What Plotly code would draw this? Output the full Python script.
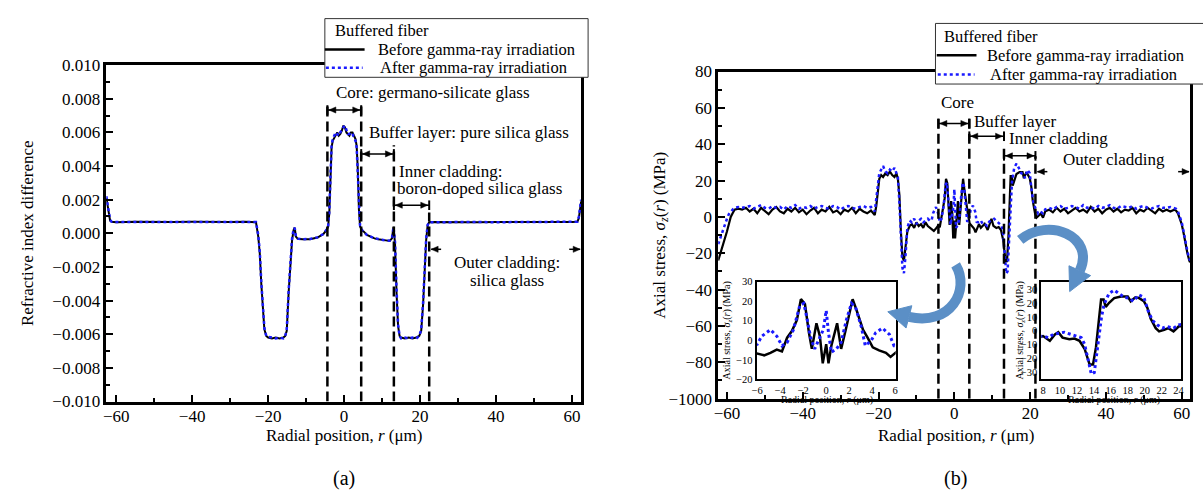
import plotly.graph_objects as go

W, H = 1203, 501
FONT = "Liberation Serif, Times New Roman, serif"
BLACK = "#000000"
BLUE = "#1a1aff"
ARROW_BLUE = "#5b8fc6"


def px(x):
    return x / W


def py(y):
    return 1 - y / H


# ---------------- (a) refractive index difference ----------------
r_ri = [-62.6, -62.3, -62.0, -61.6, -61.2, -60, -55, -50, -45, -40,
        -35, -30, -26, -23.2, -22.6, -22.2, -21.8, -21.4, -21.0, -20.5,
        -20.0, -19.0, -18.0, -17.0, -16.0, -15.5, -15.1, -14.6, -14.1, -13.7,
        -13.3, -13.0, -12.7, -12.2, -11, -9, -7, -5.5, -4.6, -4.2,
        -3.9, -3.6, -3.3, -3.0, -2.6, -2.2, -1.8, -1.4, -1.0, -0.6,
        -0.2, 0.2, 0.6, 1.0, 1.4, 1.8, 2.2, 2.6, 3.0, 3.3,
        3.6, 3.9, 4.2, 4.6, 5.2, 6, 7, 8, 9, 10,
        11, 12, 12.6, 13.0, 13.4, 13.8, 14.2, 14.6, 15, 16,
        17, 18, 19, 19.8, 20.3, 20.8, 21.2, 21.6, 22.0, 22.4,
        23, 26, 30, 35, 40, 45, 50, 55, 60, 61.4,
        61.8, 62.1, 62.4]
ri_before = [0.0021, 0.0017, 0.0011, 0.00075, 0.00068, 0.00066, 0.00068, 0.00066, 0.00067, 0.00068,
             0.00066, 0.00067, 0.00068, 0.00066, -0.0002, -0.0012, -0.0030, -0.0046, -0.0057, -0.0061,
             -0.0062, -0.00625, -0.0062, -0.00625, -0.0062, -0.0061, -0.0058, -0.0035, -0.0015, -0.0004,
             0.0002, 0.00034, -0.0002, -0.00033, -0.00036, -0.00035, -0.00025, -0.00005, 0.0002, 0.0004,
             0.0012, 0.0035, 0.0051, 0.0055, 0.0057, 0.0059, 0.0060, 0.0058, 0.0059, 0.0061,
             0.0064, 0.0063, 0.0060, 0.0059, 0.0058, 0.0060, 0.0060, 0.0058, 0.0056, 0.0052,
             0.0038, 0.0014, 0.0004, 0.0002, 0.0001, -0.0001, -0.0002, -0.0003, -0.00035, -0.0004,
             -0.00042, -0.00045, -0.0003, 0.00038, -0.0006, -0.0035, -0.0055, -0.0061, -0.0062, -0.00625,
             -0.0062, -0.00625, -0.0062, -0.0061, -0.0058, -0.0042, -0.0022, -0.0004, 0.0005, 0.00066,
             0.00067, 0.00066, 0.00068, 0.00066, 0.00067, 0.00066, 0.00068, 0.00066, 0.00067, 0.00068,
             0.0009, 0.0014, 0.0019]
ri_after = [0.0022, 0.0018, 0.0012, 0.0008, 0.00069, 0.00067, 0.00067, 0.00067, 0.00068, 0.00067,
            0.00067, 0.00068, 0.00067, 0.00067, -0.0001, -0.0011, -0.0029, -0.0045, -0.0056, -0.0061,
            -0.00615, -0.0062, -0.00625, -0.0062, -0.00625, -0.0061, -0.0057, -0.0034, -0.0014, -0.0003,
            0.00025, 0.00032, -0.00018, -0.00032, -0.00035, -0.00034, -0.00024, -0.00004, 0.00022, 0.00045,
            0.0013, 0.0036, 0.0052, 0.0056, 0.0058, 0.0060, 0.0059, 0.0058, 0.0060, 0.0062,
            0.0063, 0.0064, 0.0061, 0.0059, 0.0059, 0.0060, 0.0059, 0.0057, 0.0055, 0.0051,
            0.0036, 0.0013, 0.00045, 0.00022, 0.0001, -0.0001, -0.0002, -0.0003, -0.00034, -0.0004,
            -0.00043, -0.00044, -0.00028, 0.00036, -0.0005, -0.0033, -0.0054, -0.0061, -0.00625, -0.0062,
            -0.00625, -0.0062, -0.00625, -0.0061, -0.0057, -0.0041, -0.0021, -0.0003, 0.0005, 0.00067,
            0.00066, 0.00067, 0.00067, 0.00067, 0.00066, 0.00067, 0.00067, 0.00067, 0.00066, 0.00069,
            0.001, 0.0015, 0.002]

ri_tickvals = [-0.010, -0.008, -0.006, -0.004, -0.002, 0.000, 0.002, 0.004, 0.006, 0.008, 0.010]
ri_ticktext = ["\u22120.010", "\u22120.008", "\u22120.006", "\u22120.004", "\u22120.002", "0.000",
               "0.002", "0.004", "0.006", "0.008", "0.010"]

# region boundaries (a): position, top of dashed line
bound_a_r = [-4.4, 4.5, 13.1, 22.4]
bound_a_top = [0.00773, 0.00773, 0.00523, 0.00123]
# double arrows (a): start, end, level
arrows_a = [(-4.4, 4.5, 0.00733), (4.5, 13.1, 0.00472), (13.1, 22.4, 0.00167)]
outer_a = (22.4, 62.4, -0.00095)

# ---------------- (b) axial stress ----------------
r_edge_left = [-62.3, -62.0, -61.5, -61.0, -60.5, -60.0, -59.5, -59.0, -58.5, -58.0, -57.0, -56.0]
before_edge_left = [-24, -22, -19, -16, -12, -8, -4, 0, 2, 4, 4.5, 4]
after_edge_left = [-15, -13, -10, -7, -4, -1, 1.5, 3, 4, 5, 5.5, 5]

r_base_left = [-55, -54, -53, -52, -51, -50, -49, -48, -47, -46, -45, -44, -43, -42, -41, -40, -39,
               -38, -37, -36, -35, -34, -33, -32, -31, -30, -29, -28, -27, -26, -25, -24, -23, -22]
before_base_left = [5, 3, 4.5, 2, 5, 3.5, 1.5, 4, 5.5, 3, 2, 4.5, 3, 5, 2.5, 4, 1.5,
                    3.5, 5, 2, 4, 3, 5.5, 2.5, 3.5, 1.5, 4, 3, 5, 2, 4.5, 3, 2, 3.5]
after_base_left = [5.5, 6, 4.5, 5.5, 6.5, 5, 4.5, 6, 5, 5.5, 4, 6, 5, 6.5, 4.5, 5.5, 5,
                   6, 4.5, 5.5, 6, 5, 4.5, 6, 5.5, 4, 5.5, 6, 5, 4.5, 5.5, 6, 5, 5.5]

r_clad_left = [-21.5, -21, -20.6, -20.2, -19.8, -19.3, -18.8, -18.2, -17.6, -17,
               -16.4, -15.8, -15.3, -14.9, -14.5, -14.1, -13.7, -13.3, -12.9, -12.4,
               -11.8, -11.2, -10.6, -10, -9.4, -8.8, -8.2, -7.6, -7, -6.5]
before_clad_left = [2, 1, 6, 15, 21, 23, 22, 24, 23, 25,
                    23, 22, 24, 21, 12, -8, -22, -24, -18, -8,
                    -5, -4, -6, -3, -5, -4, -6, -3, -5, -6]
after_clad_left = [4, 3, 10, 19, 24, 26, 28, 25, 24, 26,
                   25, 27, 24, 22, 8, -12, -28, -31, -22, -6,
                   -2, -3, -1, -4, -2, -1, -3, -2, -1, -2]

r_core_before = [-6, -5.4, -4.85, -4.3, -3.85, -3.4, -3, -2.55, -2.2, -1.85, -1.5, -1.25, -0.85,
                 -0.55, -0.3, 0, 0.2, 0.45, 0.95, 1.3, 1.7, 2.05, 2.3, 2.65, 3.2, 3.6, 4.05, 4.6,
                 5.2, 5.6, 6]
core_before = [-6.9, -7.7, -6.4, -4.8, -5.7, 1.3, 4.6, 10.3, 21, 18.5, 3.8, -4.4, 8.7,
               2.1, -11.8, -2, -11.8, -2.8, 8.7, -4.4, 5.4, 15.2, 21, 15.2, 5.4, 1.3, -3.6, -5.2,
               -6.4, -8.5, -6.4]
r_core_after = [-6, -5.6, -4.85, -4.3, -3.85, -3.4, -2.85, -2.3, -1.95, -1.7, -1.35, -1, -0.6,
                -0.25, 0, 0.2, 0.45, 0.9, 1.3, 1.75, 2.2, 2.55, 3.05, 3.4, 3.9, 4.3, 4.9, 5.5, 5.9]
core_after = [-2, 2.1, 5.4, 2.1, -2.8, -1.1, 5.4, 17.7, 18.9, 12, 1.3, -4.4, 1.3,
              5.4, 15.2, 3.8, -6.1, -4.4, -1.1, 10.3, 18.9, 16.9, 7, -2.8, -0.3, 3.8, 6.2, 3, -2.8]

r_clad_right_before = [6.5, 7, 7.5, 8, 8.8, 9.4, 9.8, 10.3, 11.1, 11.7, 12.3, 12.9, 13.5, 13.9,
                       14.25, 14.85, 15.15, 15.4, 15.8, 16.4, 17.2, 18, 18.35, 18.9, 19.3, 19.9,
                       20.3, 20.7, 21.3, 21.7, 22.3, 22.8, 23.4, 24]
clad_right_before = [-4, -6, -5, -3.8, -7.2, -2.6, -1, -4.9, -6.1, -5.6, -7.2, -12.9, -24.3, -24.3,
                     -11.8, 22.5, 22.5, 17.2, 20.2, 23.6, 24.7, 24.7, 21.3, 24.1, 23.6, 21.3,
                     16.8, 8.8, 1.9, -0.4, 0.8, 1.9, -0.4, 3.1]
r_clad_right_after = [6.5, 7, 7.5, 8, 8.6, 9.2, 9.95, 10.5, 11.3, 11.9, 12.5, 12.9, 13.35, 13.7,
                      14.05, 14.45, 14.9, 15.2, 15.8, 16.4, 17, 17.6, 18.15, 18.65, 19.3, 19.9,
                      20.4, 20.9, 21.5, 22.1, 22.6, 23.4, 24]
clad_right_after = [-3, -2, -4, -3.8, -4.9, -2.6, -1.5, -1, -2.6, -3.8, -4.9, -9.5, -23.2, -31.2,
                    -30, -10.6, 9.9, 19, 27, 29.3, 27, 24.1, 23.6, 21.3, 25.9, 24.1,
                    14.5, 7.6, 4.2, 1.9, 3.1, 1.9, 4.2]

r_base_right = [25, 26, 27, 28, 29, 30, 31, 32, 33, 34, 35, 36, 37, 38, 39, 40,
                41, 42, 43, 44, 45, 46, 47, 48, 49, 50, 51, 52, 53, 54, 55]
before_base_right = [4, 2.5, 5, 3, 4.5, 2, 3.5, 5, 3, 4, 2.5, 5.5, 3, 4.5, 2, 4,
                     5, 3, 4.5, 2.5, 4, 3.5, 5, 2, 4, 3, 5, 3.5, 2, 4.5, 3]
after_base_right = [5, 4, 5.5, 6, 4.5, 5, 6, 5.5, 4.5, 6.5, 5, 5.5, 4.5, 6, 5, 5.5,
                    6.5, 5, 4.5, 6, 5.5, 5, 6, 4.5, 5.5, 6, 5, 4.5, 5.5, 6, 5]

r_edge_right = [56, 57, 58, 58.5, 59, 59.5, 60, 60.5, 61, 61.5, 62, 62.2]
before_edge_right = [4, 3, 4, 3.5, 2, -1, -4, -9, -15, -20, -24, -25]
after_edge_right = [5, 5.5, 5, 4.5, 3, 0, -3, -8, -14, -19, -23, -24]

stress_tickvals = [-100, -80, -60, -40, -20, 0, 20, 40, 60, 80]
stress_ticktext = ["\u22121000", "\u221280", "\u221260", "\u221240", "\u221220", "0", "20", "40", "60", "80"]
r_tickvals = [-60, -40, -20, 0, 20, 40, 60]
r_ticktext = ["\u221260", "\u221240", "\u221220", "0", "20", "40", "60"]

inset_a_xvals = [-6, -4, -2, 0, 2, 4, 6]
inset_a_xtext = ["\u22126", "\u22124", "\u22122", "0", "2", "4", "6"]
inset_a_yvals = [-20, -10, 0, 10, 20, 30]
inset_a_ytext = ["\u221220", "\u221210", "0", "10", "20", "30"]
inset_b_xvals = [8, 10, 12, 14, 16, 18, 20, 22, 24]
inset_b_yvals = [-30, -20, -10, 0, 10, 20, 30]
inset_b_ytext = ["\u221230", "\u221220", "\u221210", "0", "10", "20", "30"]

bound_b_r = [-4.2, 3.95, 13.1, 21.4]
bound_b_top = [54.4, 54.4, 37.6, 33.4]
arrows_b = [(-4.2, 3.95, 51.4), (3.95, 13.1, 44.4), (13.1, 21.4, 33.6)]
outer_b = (21.4, 62.2, 24.9)

stress_r_before = (r_edge_left + r_base_left + r_clad_left + r_core_before
                   + r_clad_right_before + r_base_right + r_edge_right)
stress_before = (before_edge_left + before_base_left + before_clad_left + core_before
                 + clad_right_before + before_base_right + before_edge_right)
stress_r_after = (r_edge_left + r_base_left + r_clad_left + r_core_after
                  + r_clad_right_after + r_base_right + r_edge_right)
stress_after = (after_edge_left + after_base_left + after_clad_left + core_after
                + clad_right_after + after_base_right + after_edge_right)

# ---------------- panel geometry (pixels) ----------------
A_BOX = (102, 580, 58.3, 408)      # left, right, top, bottom
A_XR = (-62.6, 62.4)
A_YR = (-0.010, 0.010)
B_BOX = (718, 1193, 65, 405)
B_XR = (-62.3, 62.2)
B_YR = (-100, 80)


def to_px(box, xr, yr, x, y):
    X = box[0] + (x - xr[0]) / (xr[1] - xr[0]) * (box[1] - box[0])
    Y = box[3] - (y - yr[0]) / (yr[1] - yr[0]) * (box[3] - box[2])
    return X, Y


# ---------------- figure ----------------
fig = go.Figure()
fig.add_trace(go.Scatter(x=r_ri, y=ri_before, mode="lines", line=dict(color=BLACK, width=2),
                         xaxis="x", yaxis="y", name="Before gamma-ray irradiation"))
fig.add_trace(go.Scatter(x=r_ri, y=ri_after, mode="lines", line=dict(color=BLUE, width=2.5, dash="dot"),
                         xaxis="x", yaxis="y", name="After gamma-ray irradiation"))
for xa, ya, wb, wa in [("x2", "y2", 2.2, 2.5), ("x3", "y3", 2.5, 3), ("x4", "y4", 2.5, 3)]:
    fig.add_trace(go.Scatter(x=stress_r_before, y=stress_before, mode="lines",
                             line=dict(color=BLACK, width=wb), xaxis=xa, yaxis=ya,
                             name="Before gamma-ray irradiation"))
    fig.add_trace(go.Scatter(x=stress_r_after, y=stress_after, mode="lines",
                             line=dict(color=BLUE, width=wa, dash="dot"), xaxis=xa, yaxis=ya,
                             name="After gamma-ray irradiation"))


def main_axis(**kw):
    d = dict(showline=True, linecolor="black", linewidth=2.5, mirror=True, ticks="inside",
             tickcolor="black", tickwidth=2, ticklen=7, showgrid=False, zeroline=False,
             tickfont=dict(family=FONT, size=17, color="black"))
    d.update(kw)
    return d


def inset_axis(**kw):
    d = dict(showline=True, linecolor="black", linewidth=2, mirror=True, ticks="",
             showgrid=False, zeroline=False, tickfont=dict(family=FONT, size=10.5, color="black"))
    d.update(kw)
    return d


minor_x = dict(ticks="inside", ticklen=4, tickwidth=2, tickcolor="black", dtick=10, tick0=0)

fig.update_layout(
    width=W, height=H, margin=dict(l=0, r=0, t=0, b=0),
    paper_bgcolor="white", plot_bgcolor="white", showlegend=False,
    font=dict(family=FONT, color="black"),
    xaxis=main_axis(domain=[px(A_BOX[0]), px(A_BOX[1])], range=list(A_XR), anchor="y",
                    tickmode="array", tickvals=r_tickvals, ticktext=r_ticktext, minor=minor_x,
                    ticklabelstandoff=-3),
    yaxis=main_axis(domain=[py(A_BOX[3]), py(A_BOX[2])], range=list(A_YR), anchor="x",
                    tickmode="array", tickvals=ri_tickvals, ticktext=ri_ticktext,
                    minor=dict(ticks="inside", ticklen=4, tickwidth=2, tickcolor="black",
                               dtick=0.001, tick0=0)),
    xaxis2=main_axis(domain=[px(B_BOX[0]), px(B_BOX[1])], range=list(B_XR), anchor="y2",
                     tickmode="array", tickvals=r_tickvals, ticktext=r_ticktext, minor=minor_x,
                     ticklabelstandoff=-3),
    yaxis2=main_axis(domain=[py(B_BOX[3]), py(B_BOX[2])], range=list(B_YR), anchor="x2",
                     tickmode="array", tickvals=stress_tickvals, ticktext=stress_ticktext,
                     minor=dict(ticks="inside", ticklen=4, tickwidth=2, tickcolor="black",
                                dtick=10, tick0=0)),
    xaxis3=inset_axis(domain=[px(756.7), px(896.7)], range=[-6.05, 6.05], anchor="y3",
                      tickmode="array", tickvals=inset_a_xvals, ticktext=inset_a_xtext),
    yaxis3=inset_axis(domain=[py(385), py(283.3)], range=[-20, 30], anchor="x3",
                      tickmode="array", tickvals=inset_a_yvals, ticktext=inset_a_ytext),
    xaxis4=inset_axis(domain=[px(1043.3), px(1184)], range=[7.8, 24.3], anchor="y4",
                      tickmode="array", tickvals=inset_b_xvals),
    yaxis4=inset_axis(domain=[py(385), py(284)], range=[-35, 35], anchor="x4",
                      tickmode="array", tickvals=inset_b_yvals, ticktext=inset_b_ytext),
)

shapes = []
annotations = []


def P(x, y):
    return f"{px(x):.5f},{py(y):.5f}"


def text_ann(txt, x, y, size=17, xanchor="center", angle=0):
    annotations.append(dict(text=txt, x=px(x), y=py(y), xref="paper", yref="paper",
                            xanchor=xanchor, yanchor="middle", showarrow=False,
                            font=dict(family=FONT, size=size, color="black"), textangle=angle))


def head(xt, yt, direction, L=7, h=3.2):
    # direction: -1 arrow points left, +1 points right
    base = xt - direction * L
    shapes.append(dict(type="path", xref="paper", yref="paper",
                       path=f"M {P(xt, yt)} L {P(base, yt - h)} L {P(base, yt + h)} Z",
                       fillcolor="black", line=dict(color="black", width=0.5)))


def double_arrow(box, xr, yr, x0, x1, y):
    X0, Y = to_px(box, xr, yr, x0, y)
    X1, _ = to_px(box, xr, yr, x1, y)
    shapes.append(dict(type="line", xref="paper", yref="paper", x0=px(X0), x1=px(X1),
                       y0=py(Y), y1=py(Y), line=dict(color="black", width=1.5)))
    for xx in (X0, X1):
        shapes.append(dict(type="line", xref="paper", yref="paper", x0=px(xx), x1=px(xx),
                           y0=py(Y - 5), y1=py(Y + 5), line=dict(color="black", width=2)))
    head(X0 + 1.5, Y, -1)
    head(X1 - 1.5, Y, 1)


def outer_arrows(box, xr, yr, x0, x1, y):
    X0, Y = to_px(box, xr, yr, x0, y)
    X1, _ = to_px(box, xr, yr, x1, y)
    shapes.append(dict(type="line", xref="paper", yref="paper", x0=px(X0 + 2), x1=px(X0 + 12),
                       y0=py(Y), y1=py(Y), line=dict(color="black", width=1.5)))
    head(X0 + 2, Y, -1)
    shapes.append(dict(type="line", xref="paper", yref="paper", x0=px(X1 - 12), x1=px(X1 - 1),
                       y0=py(Y), y1=py(Y), line=dict(color="black", width=1.5)))
    head(X1 - 1, Y, 1)


# dashed region boundaries
for rr, top in zip(bound_a_r, bound_a_top):
    shapes.append(dict(type="line", xref="x", yref="y", x0=rr, x1=rr, y0=A_YR[0], y1=top,
                       line=dict(color="black", width=2.5, dash="10px,5px")))
for rr, top in zip(bound_b_r, bound_b_top):
    shapes.append(dict(type="line", xref="x2", yref="y2", x0=rr, x1=rr, y0=B_YR[0], y1=top,
                       line=dict(color="black", width=2.5, dash="10px,5px")))

for x0, x1, yy in arrows_a:
    double_arrow(A_BOX, A_XR, A_YR, x0, x1, yy)
outer_arrows(A_BOX, A_XR, A_YR, *outer_a)
for x0, x1, yy in arrows_b:
    double_arrow(B_BOX, B_XR, B_YR, x0, x1, yy)
outer_arrows(B_BOX, B_XR, B_YR, *outer_b)

# curved blue arrows pointing to the insets
body1 = "M {} C {} {} {}".format(P(957, 266), P(972, 292), P(952, 330), P(910, 320))
head1 = "M {} L {} L {} Z".format(P(888.7, 314.7), P(912.9, 308.4), P(907.1, 331.6))
body2 = "M {} C {} {} {}".format(P(1022, 240), P(1050, 216), P(1098, 236), P(1082, 272))
head2 = "M {} L {} L {} Z".format(P(1071.8, 293.7), P(1092.9, 277.1), P(1071.1, 266.9))
for b in (body1, body2):
    shapes.append(dict(type="path", xref="paper", yref="paper", path=b,
                       line=dict(color=ARROW_BLUE, width=10), fillcolor="rgba(0,0,0,0)"))
for hd in (head1, head2):
    shapes.append(dict(type="path", xref="paper", yref="paper", path=hd,
                       line=dict(color=ARROW_BLUE, width=1), fillcolor=ARROW_BLUE))

# legends (drawn as boxes)
for (bx0, bx1, by0, by1, tx, ty, s0, s1, tb, ta, y1l, y2l) in [
        (322, 587, 10, 71, 330, 22, 322, 362, 373, 375, 42, 61),
        (936.7, 1215, 15, 78, 943, 29, 938, 978, 987, 990, 48, 68)]:
    shapes.append(dict(type="rect", xref="paper", yref="paper", x0=px(bx0), x1=px(bx1),
                       y0=py(by1), y1=py(by0), line=dict(color="#333333", width=1),
                       fillcolor="white", layer="above"))
    shapes.append(dict(type="line", xref="paper", yref="paper", x0=px(s0), x1=px(s1),
                       y0=py(y1l), y1=py(y1l), line=dict(color=BLACK, width=2.5)))
    shapes.append(dict(type="line", xref="paper", yref="paper", x0=px(s0 + 1), x1=px(s1 - 2),
                       y0=py(y2l), y1=py(y2l), line=dict(color=BLUE, width=2.5, dash="dot")))
    text_ann("Buffered fiber", tx, ty, size=16.5, xanchor="left")
    text_ann("Before gamma-ray irradiation", tb, y1l, size=16.5, xanchor="left")
    text_ann("After gamma-ray irradiation", ta, y2l, size=16.5, xanchor="left")

# region labels (a)
text_ann("Core: germano-silicate glass", 431, 87)
text_ann("Buffer layer: pure silica glass", 467, 128)
text_ann("Inner cladding:", 395, 169, xanchor="left")
text_ann("boron-doped silica glass", 392.7, 187, xanchor="left")
text_ann("Outer cladding:", 505, 263)
text_ann("silica glass", 505, 282)
# region labels (b)
text_ann("Core", 940, 97, xanchor="left")
text_ann("Buffer layer", 973, 117, xanchor="left")
text_ann("Inner cladding", 1009, 135, xanchor="left")
text_ann("Outer cladding", 1063, 156, xanchor="left")

# axis titles
text_ann("Refractive index difference", 22, 233, angle=-90)
text_ann("Radial position, <i>r</i> (\u03bcm)", 341, 443)
text_ann("Axial stress, <i>\u03c3</i><sub><i>z</i></sub>(<i>r</i>) (MPa)", 660, 235, angle=-90)
text_ann("Radial position, <i>r</i> (\u03bcm)", 957, 443)
text_ann("Axial stress, <i>\u03c3</i><sub><i>z</i></sub>(<i>r</i>) (MPa)", 727, 334, size=10, angle=-90)
text_ann("Radial position, <i>r</i> (\u03bcm)", 828, 406, size=10)
text_ann("Axial stress, <i>\u03c3</i><sub><i>z</i></sub>(<i>r</i>) (MPa)", 1022, 334, size=10, angle=-90)
text_ann("Radial position, <i>r</i> (\u03bcm)", 1116, 406, size=10)
text_ann("(a)", 341, 488, size=20)
text_ann("(b)", 957, 488, size=20)

fig.update_layout(shapes=shapes, annotations=annotations)
fig.write_html("out.html", config={"displayModeBar": False},
               post_script="document.body.style.margin='0';document.body.style.overflow='hidden';")
